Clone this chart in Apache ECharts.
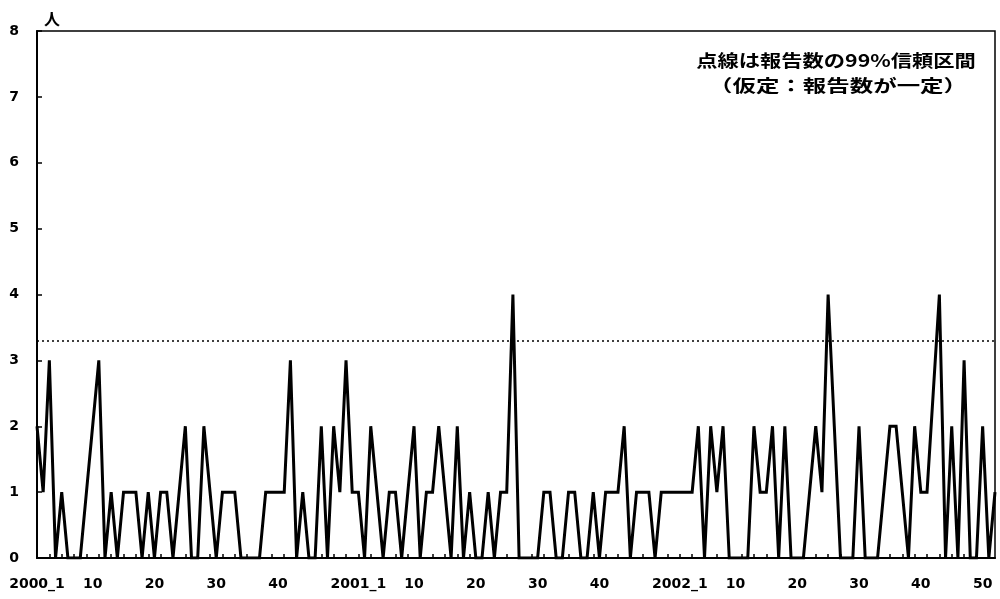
<!DOCTYPE html>
<html>
<head>
<meta charset="utf-8">
<script src="https://cdn.jsdelivr.net/npm/echarts@6/dist/echarts.min.js"></script>
<style>
html,body{margin:0;padding:0;background:#fff;}
#chart{width:1000px;height:599px;}
</style>
</head>
<body>
<div id="chart"></div>
<script>
// ---- data (weekly reported cases, 人) ----
const years = [2000, 2001, 2002];
const weeksPerYear = 52;
const cases2000 = [2,1,3,0,1,0,0,0,1,2, 3,0,1,0,1,1,1,0,1,0, 1,1,0,1,2,0,0,2,1,0, 1,1,1,0,0,0,0,1,1,1, 1,3,0,1,0,0,2,0,2,1, 3,1];
const cases2001 = [1,0,2,1,0,1,1,0,1,2, 0,1,1,2,1,0,2,0,1,0, 0,1,0,1,1,4,0,0,0,0, 1,1,0,0,1,1,0,0,1,0, 1,1,1,2,0,1,1,1,0,1, 1,1];
const cases2002 = [1,1,1,2,0,2,1,2,0,0, 0,0,2,1,1,2,0,2,0,0, 0,1,2,1,4,2,0,0,0,2, 0,0,0,1,2,2,1,0,2,1, 1,2.5,4,0,2,0,3,0,0,2, 0,1];
const ciUpper = 3.3; // 99% confidence limit (dotted line)
const labelledWeeks = ['2000_1','2000_10','2000_20','2000_30','2000_40',
                       '2001_1','2001_10','2001_20','2001_30','2001_40',
                       '2002_1','2002_10','2002_20','2002_30','2002_40','2002_50'];
const yTicks = [0,1,2,3,4,5,6,7,8];
const unitLabel = '人';
const noteLine1 = '点線は報告数の99%信頼区間';
const noteLine2 = '（仮定：報告数が一定）';

// ---- build ----
const categories = [];
years.forEach(y => { for (let w = 1; w <= weeksPerYear; w++) categories.push(y + '_' + w); });
const values = cases2000.concat(cases2001, cases2002);

const chart = echarts.init(document.getElementById('chart'), null, {renderer: 'canvas'});
const labelFont = 'DejaVu Sans';
chart.setOption({
  animation: false,
  backgroundColor: '#fff',
  grid: {left: 37, right: 5, top: 31, bottom: 41, show: true, borderColor: '#000', borderWidth: 1.5, backgroundColor: 'transparent'},
  xAxis: {
    type: 'category',
    data: categories,
    boundaryGap: false,
    axisLine: {lineStyle: {color: '#000', width: 2}},
    axisTick: {show: true, inside: true, length: 4, interval: 1, lineStyle: {color: '#000', width: 1.5}},
    axisLabel: {
      interval: (idx, val) => labelledWeeks.indexOf(val) >= 0,
      formatter: (val) => val.endsWith('_1') ? val : val.split('_')[1],
      color: '#000', fontFamily: labelFont, fontWeight: 'bold', fontSize: 14, margin: 19,
      hideOverlap: false
    },
    splitLine: {show: false}
  },
  yAxis: {
    type: 'value',
    min: yTicks[0], max: yTicks[yTicks.length - 1], interval: 1,
    axisLine: {show: true, lineStyle: {color: '#000', width: 2}},
    axisTick: {show: true, inside: true, length: 5, lineStyle: {color: '#000', width: 1.5}},
    axisLabel: {color: '#000', fontFamily: labelFont, fontWeight: 'bold', fontSize: 14, margin: 18, padding: [3, 0, 0, 0]},
    splitLine: {show: false}
  },
  series: [{
    type: 'line',
    data: values,
    symbol: 'none',
    lineStyle: {color: '#000', width: 3, join: 'miter', miterLimit: 4},
    markLine: {
      silent: true,
      symbol: ['none', 'none'],
      label: {show: false},
      lineStyle: {color: '#000', width: 1.5, type: [2, 3]},
      data: [{yAxis: ciUpper}]
    }
  }],
  graphic: [
    {type: 'text', x: 52, y: 19, style: {text: unitLabel, font: 'bold 16px "Noto Sans CJK JP"', fill: '#000', textAlign: 'center', textVerticalAlign: 'middle'}},
    {type: 'text', x: 836, y: 61, scaleX: 1.25, style: {text: noteLine1, font: 'bold 17px "Noto Sans CJK JP"', fill: '#000', textAlign: 'center', textVerticalAlign: 'middle'}},
    {type: 'text', x: 838, y: 86, scaleX: 1.38, style: {text: noteLine2, font: 'bold 17px "Noto Sans CJK JP"', fill: '#000', textAlign: 'center', textVerticalAlign: 'middle'}}
  ]
});
</script>
</body>
</html>
